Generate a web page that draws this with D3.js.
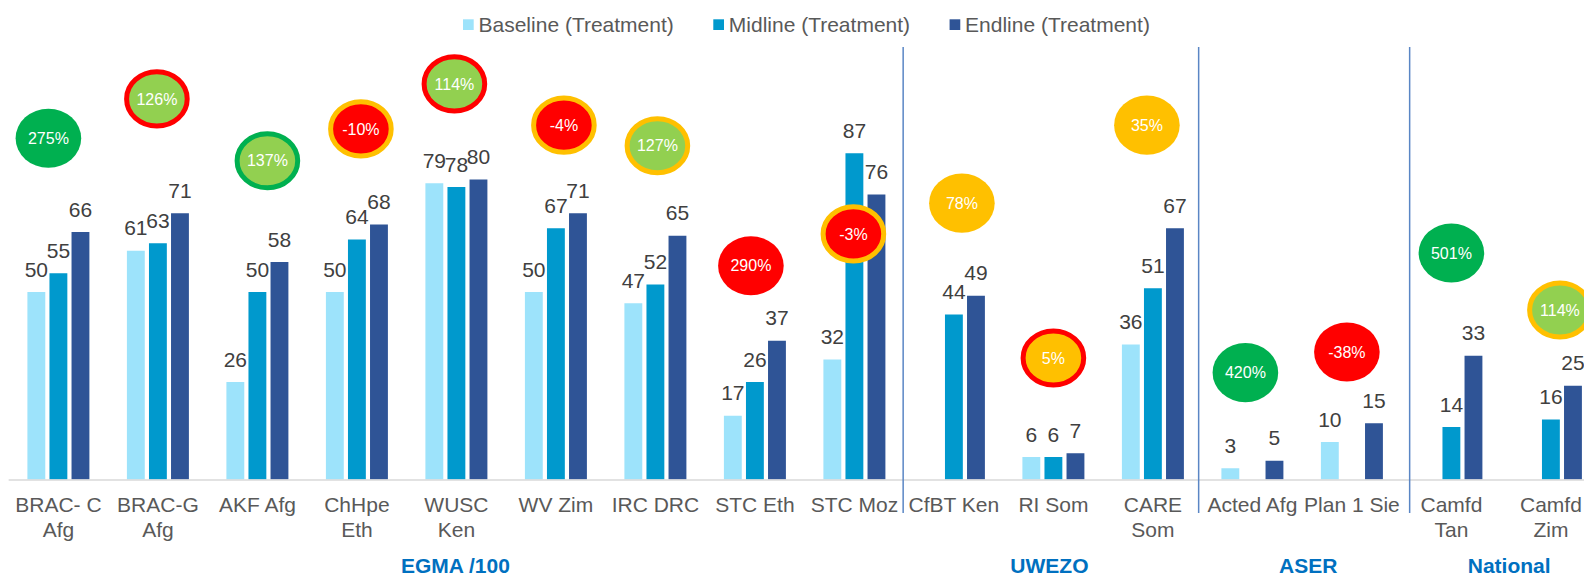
<!DOCTYPE html>
<html>
<head>
<meta charset="utf-8">
<script src="https://cdn.jsdelivr.net/npm/d3@7"></script>
<style>
  html, body { margin: 0; padding: 0; background: #ffffff; overflow: hidden; }
  svg { display: block; font-family: "Liberation Sans", Arial, sans-serif; }
</style>
</head>
<body>
<svg id="chart" width="1584" height="577"></svg>
<script>
// ---------------- DATA ----------------
const categories = [
  "BRAC- C\nAfg", "BRAC-G\nAfg", "AKF Afg", "ChHpe\nEth", "WUSC\nKen", "WV Zim",
  "IRC DRC", "STC Eth", "STC Moz", "CfBT Ken", "RI Som", "CARE\nSom",
  "Acted Afg", "Plan 1 Sie", "Camfd\nTan", "Camfd\nZim"
];
const seriesNames = ["Baseline (Treatment)", "Midline (Treatment)", "Endline (Treatment)"];
const baseline = [50, 61, 26, 50, 79, 50, 47, 17, 32, null, 6, 36, 3, 10, null, null];
const midline  = [55, 63, 50, 64, 78, 67, 52, 26, 87, 44, 6, 51, null, null, 14, 16];
const endline  = [66, 71, 58, 68, 80, 71, 65, 37, 76, 49, 7, 67, 5, 15, 33, 25];

// change callouts (one per category)
const changeLabels = ["275%", "126%", "137%", "-10%", "114%", "-4%", "127%", "290%",
                      "-3%", "78%", "5%", "35%", "420%", "-38%", "501%", "114%"];
const changeFill = ["green", "lightgreen", "lightgreen", "red", "lightgreen", "red", "lightgreen", "red",
                    "red", "amber", "amber", "amber", "green", "red", "green", "lightgreen"];
const changeRing = [null, "red", "green", "amber", "red", "amber", "amber", null,
                    "amber", null, "red", null, null, null, null, "amber"];

// assessment groups: [label, first category index, last category index]
const groupNames = ["EGMA /100", "UWEZO", "ASER", "National"];
const groupStart = [0, 9, 12, 14];
const groupEnd   = [8, 11, 13, 15];

// ---------------- LAYOUT / STYLE ----------------
const W = 1584, H = 577;
const colors = ["#9DE3FB", "#0099CD", "#2F5496"];
const statusColor = { green: "#00B050", lightgreen: "#92D050", red: "#FF0000", amber: "#FFC000" };
// callout placement: horizontal nudge (px) from category centre, vertical level in value units
const calloutDx    = [-10, -1, 10, 4, -2, 8, 2, -4, -1, 8, 0, -6, -7, -5, 0, 9];
const calloutLevel = [91, 101.5, 85, 93.5, 105.5, 94.5, 89, 57, 65.5, 73.7, 32.4, 94.5, 28.5, 34, 60.4, 45.2];
const separatorDx  = [-1, -4, 8];
const groupDx      = [-1, -4, 6, 8];

const svg = d3.select("#chart");

const x0 = d3.scaleBand().domain(d3.range(categories.length)).range([8.65, 8.65 + 16 * 99.5]).padding(0);
const x1 = d3.scaleBand().domain(d3.range(3)).range([0, x0.bandwidth()]).paddingInner(0.19).paddingOuter(0.85);
const y = d3.scaleLinear().domain([0, 100]).range([479.5, 104.5]);

const seriesValues = [baseline, midline, endline];

// bars
const barData = [];
seriesValues.forEach((vals, s) => vals.forEach((v, i) => { if (v != null) barData.push({ i, s, v }); }));

svg.append("g").selectAll("rect").data(barData).join("rect")
  .attr("x", d => x0(d.i) + x1(d.s))
  .attr("width", x1.bandwidth())
  .attr("y", d => y(d.v))
  .attr("height", d => y(0) - y(d.v))
  .attr("fill", d => colors[d.s]);

// axis line
svg.append("line")
  .attr("x1", x0.range()[0]).attr("x2", W)
  .attr("y1", y(0) + 0.5).attr("y2", y(0) + 0.5)
  .attr("stroke", "#D9D9D9").attr("stroke-width", 1.6);

// data labels
svg.append("g").selectAll("text").data(barData).join("text")
  .attr("x", d => x0(d.i) + x1(d.s) + x1.bandwidth() / 2)
  .attr("y", d => y(d.v) - 15.5)
  .attr("text-anchor", "middle")
  .attr("font-size", 21)
  .attr("fill", "#404040")
  .text(d => d.v);

// category labels
const catG = svg.append("g");
categories.forEach((c, i) => {
  const lines = c.split("\n");
  const t = catG.append("text")
    .attr("x", x0(i) + x0.bandwidth() / 2)
    .attr("y", 511.5)
    .attr("text-anchor", "middle")
    .attr("font-size", 21)
    .attr("fill", "#595959");
  lines.forEach((ln, k) => {
    t.append("tspan").attr("x", x0(i) + x0.bandwidth() / 2).attr("dy", k === 0 ? 0 : 25).text(ln);
  });
});

// separators
groupEnd.slice(0, 3).forEach((e, k) => {
  const sx = x0(e) + x0.bandwidth() + separatorDx[k];
  svg.append("line")
    .attr("x1", sx).attr("x2", sx)
    .attr("y1", 47).attr("y2", 513)
    .attr("stroke", "#5A86C5").attr("stroke-width", 1.5);
});

// group labels
groupNames.forEach((g, k) => {
  const cx = (x0(groupStart[k]) + x0(groupEnd[k]) + x0.bandwidth()) / 2 + groupDx[k];
  svg.append("text")
    .attr("x", cx).attr("y", 572.5)
    .attr("text-anchor", "middle")
    .attr("font-size", 21).attr("font-weight", "bold")
    .attr("fill", "#0070C0")
    .text(g);
});

// callouts
const callG = svg.append("g");
changeLabels.forEach((lab, i) => {
  const cx = x0(i) + x0.bandwidth() / 2 + calloutDx[i];
  const cy = y(calloutLevel[i]);
  const ring = changeRing[i];
  const sw = ring ? 5 : 0;
  callG.append("ellipse")
    .attr("cx", cx).attr("cy", cy)
    .attr("rx", 32.8 - sw / 2).attr("ry", 29.6 - sw / 2)
    .attr("fill", statusColor[changeFill[i]])
    .attr("stroke", ring ? statusColor[ring] : "none")
    .attr("stroke-width", sw);
  callG.append("text")
    .attr("x", cx).attr("y", cy + 5.7)
    .attr("text-anchor", "middle")
    .attr("font-size", 16)
    .attr("fill", "#ffffff")
    .text(lab);
});

// legend
const leg = svg.append("g");
let lx = 463;
seriesNames.forEach((n, s) => {
  leg.append("rect").attr("x", lx).attr("y", 19.3).attr("width", 10.7).attr("height", 10.7).attr("fill", colors[s]);
  const t = leg.append("text").attr("x", lx + 15.5).attr("y", 31.5)
    .attr("font-size", 21).attr("fill", "#595959").text(n);
  lx += 15.5 + t.node().getComputedTextLength() + 39.5;
});
</script>
</body>
</html>
